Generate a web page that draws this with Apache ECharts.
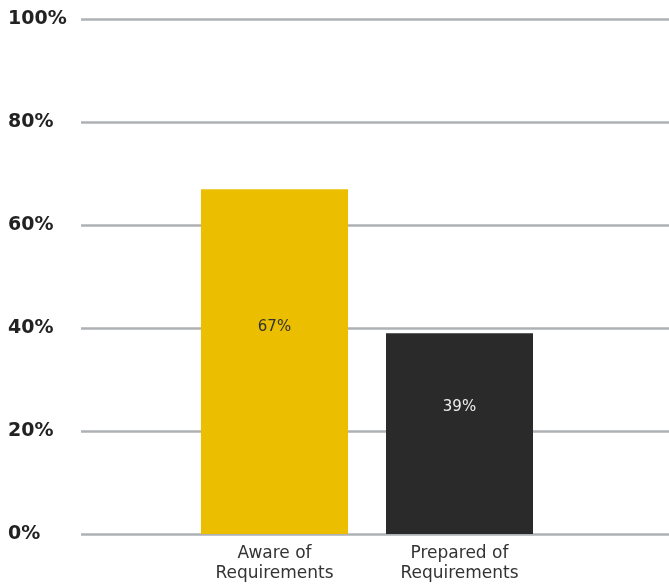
<!DOCTYPE html>
<html>
<head>
<meta charset="utf-8">
<script src="https://cdn.jsdelivr.net/npm/echarts@6/dist/echarts.min.js"></script>
<style>html,body{margin:0;padding:0;background:#fff}#c{width:669px;height:587px}</style>
</head>
<body>
<div id="c"></div>
<script>
var categories = ['Aware of\nRequirements', 'Prepared of\nRequirements'];
var values = [67, 39];
var yTicks = [0, 20, 40, 60, 80, 100];

var barColors = ['#EBBF00', '#2A2A2A'];
var labelColors = ['#333333', '#EEEEEE'];
var labelPos = [['50%', '40%'], ['50%', '37%']];

var chart = echarts.init(document.getElementById('c'), null, {renderer: 'canvas'});
var option = {
  animation: false,
  grid: [
    {left: 81, right: 0, top: 19.5, bottom: 53, containLabel: false},
    {left: 182, right: 117, top: 19.5, bottom: 53, containLabel: false}
  ],
  xAxis: [
    {gridIndex: 0, type: 'value', show: false, min: 0, max: 1},
    {
      gridIndex: 1, type: 'category', data: categories,
      axisLine: {show: false}, axisTick: {show: false},
      axisLabel: {color: '#333', fontFamily: 'DejaVu Sans', fontSize: 17, lineHeight: 20, margin: 10}
    }
  ],
  yAxis: [
    {
      gridIndex: 0, type: 'value', min: yTicks[0], max: yTicks[yTicks.length - 1], interval: yTicks[1] - yTicks[0],
      axisLine: {show: false}, axisTick: {show: false},
      splitLine: {lineStyle: {color: '#AEB1B4', width: 2.5}},
      axisLabel: {
        formatter: '{value}%', align: 'left', margin: 73,
        color: '#222', fontFamily: 'DejaVu Sans', fontWeight: 'bold', fontSize: 19,
        padding: [2, 0, 0, 0]
      }
    },
    {gridIndex: 1, type: 'value', show: false, min: yTicks[0], max: yTicks[yTicks.length - 1], splitLine: {show: false}}
  ],
  series: [{
    type: 'bar', xAxisIndex: 1, yAxisIndex: 1, barWidth: 147,
    data: values.map(function (v, i) {
      return {
        value: v,
        itemStyle: {color: barColors[i]},
        label: {
          show: true, position: labelPos[i], align: 'center', verticalAlign: 'middle',
          formatter: '{c}%', color: labelColors[i], fontFamily: 'DejaVu Sans', fontSize: 15
        }
      };
    })
  }]
};
chart.setOption(option);
</script>
</body>
</html>
